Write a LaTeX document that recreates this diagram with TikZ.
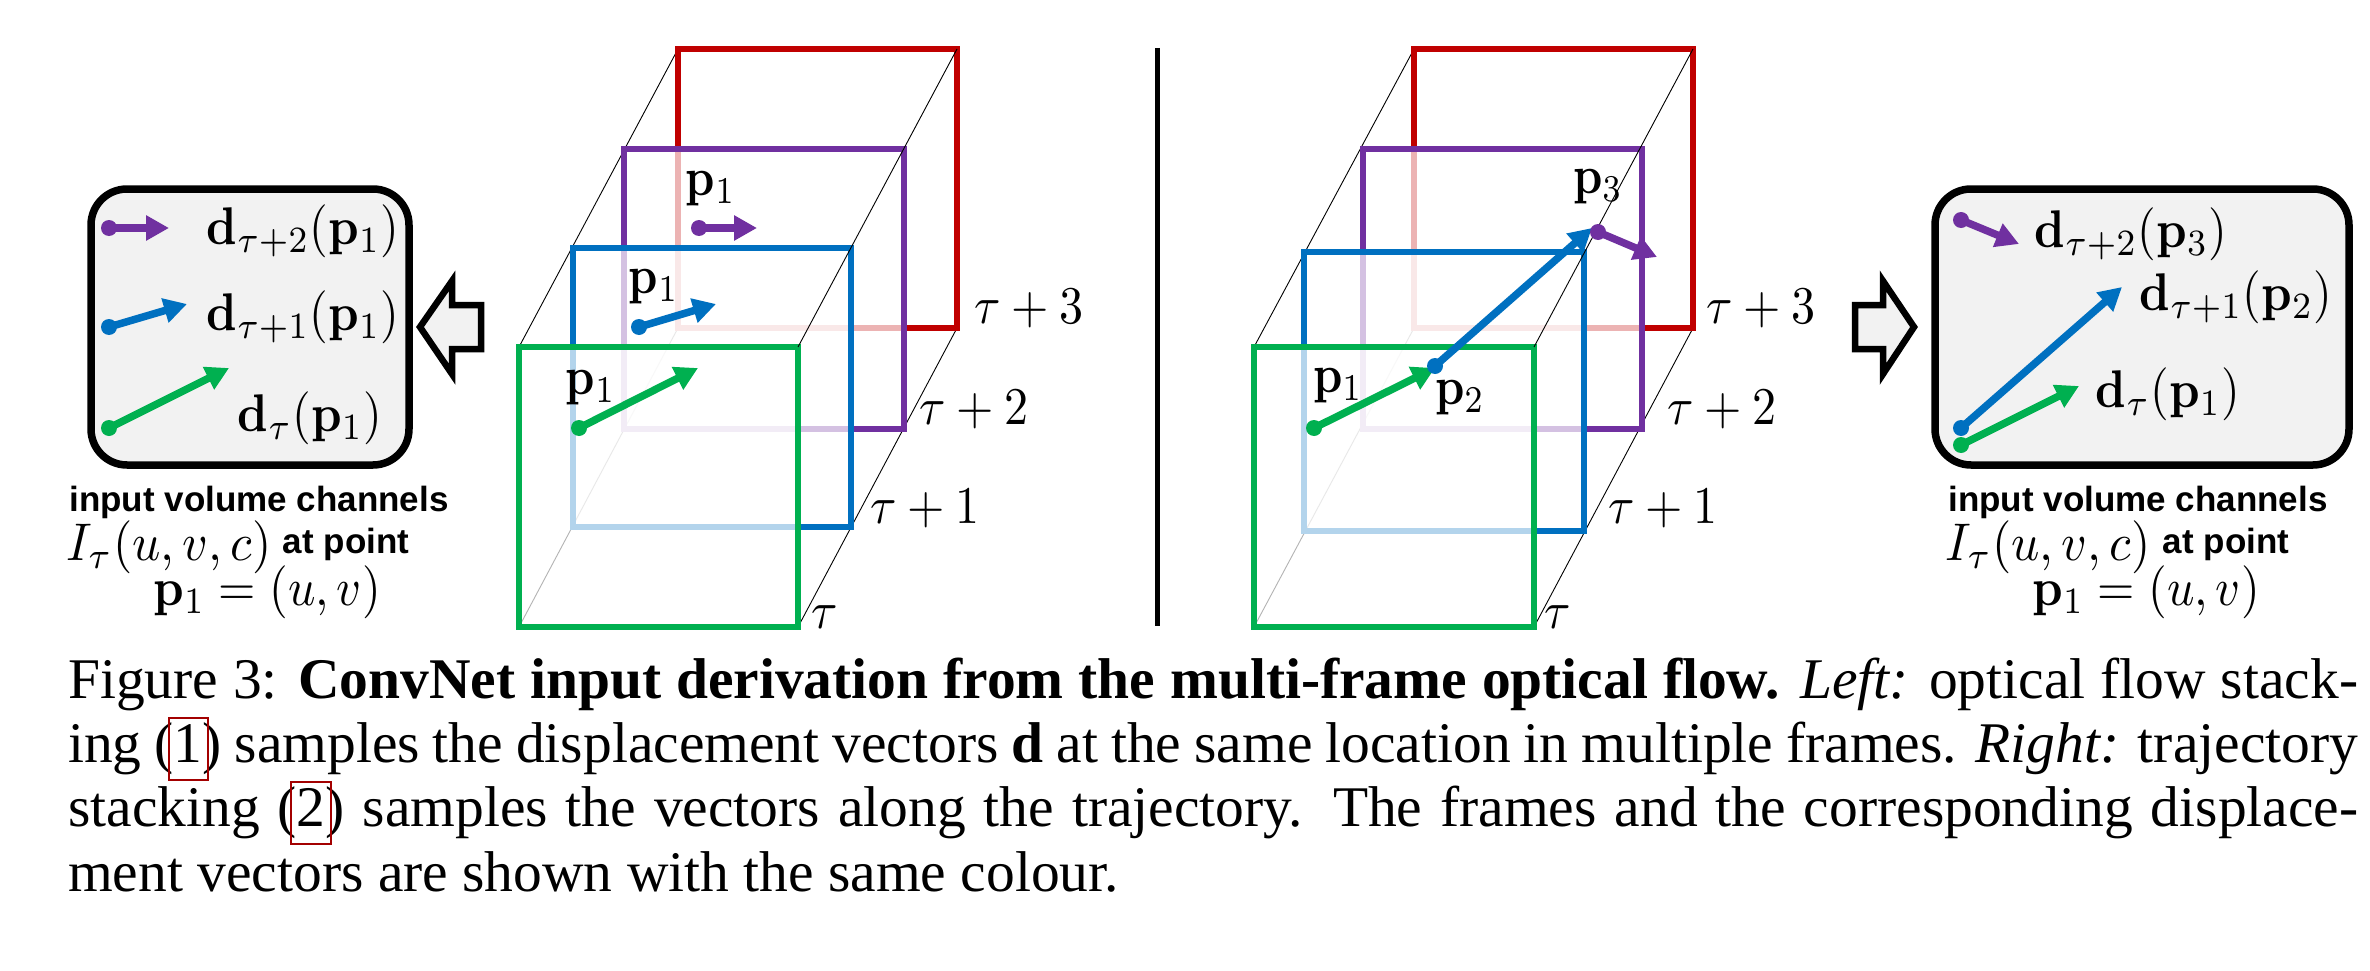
\documentclass[tikz,border=0pt]{standalone}
\usepackage[no-math]{fontspec}
\setmainfont{Liberation Serif}
\newfontfamily\labelsans{Liberation Sans}
\usetikzlibrary{arrows.meta}
\definecolor{cgreen}{RGB}{0,176,80}
\definecolor{cblue}{RGB}{0,112,192}
\definecolor{cpurple}{RGB}{112,48,160}
\definecolor{cred}{RGB}{192,0,0}
\definecolor{panelgray}{RGB}{242,242,242}
\tikzset{
  frame/.style={line width=5.5pt,fill=white,fill opacity=.7,draw opacity=1,line join=miter},
  guide/.style={line width=.9pt,black},
  flow/.style={line width=7.5pt,-{Triangle[length=23pt,width=24pt]},shorten >=0pt},
  panel/.style={draw=black,line width=7.5pt,fill=panelgray,rounded corners=36pt},
  hollow/.style={draw=black,line width=6.5pt,fill=panelgray,miter limit=10},
  sym/.style={inner sep=0pt,xscale=4.6,yscale=5.4},
  big/.style={inner sep=0pt,xscale=4.8,yscale=5.3},
  bigwide/.style={inner sep=0pt,xscale=4.95,yscale=5.3},
  tag/.style={inner sep=0pt,font=\labelsans\bfseries\fontsize{35}{38}\selectfont},
  capline/.style={inner sep=0pt,anchor=base west,font=\fontsize{57.5}{64}\selectfont},
  linkbox/.style={draw=cred!85!black,line width=1.2pt}
}
\newcommand{\capw}[1]{\makebox[2290pt][s]{#1}}
\begin{document}
\begin{tikzpicture}[x=1pt,y=-1pt]
\useasboundingbox (0,0) rectangle (2370,971);
% ---------- left stack
\coordinate (gA) at (519,347); \coordinate (gB) at (798,347); \coordinate (gC) at (798,627); \coordinate (gD) at (519,627);
\coordinate (rA) at (678,49); \coordinate (rB) at (957,49); \coordinate (rC) at (957,328); \coordinate (rD) at (678,328);
\draw[guide] (gA)--(rA) (gC)--(rC) (gD)--(rD);
\draw[frame,draw=cred] (rA) rectangle (rC);
\draw[frame,draw=cpurple] (624,149) rectangle (904,429);
\draw[frame,draw=cblue] (573,248) rectangle (851,527);
\draw[frame,draw=cgreen] (gA) rectangle (gC);
\draw[guide] (gB)--(rB);
% ---------- right stack
\coordinate (hA) at (1254,347); \coordinate (hB) at (1534,347); \coordinate (hC) at (1534,627); \coordinate (hD) at (1254,627);
\coordinate (sA) at (1414,49); \coordinate (sB) at (1693,49); \coordinate (sC) at (1693,328); \coordinate (sD) at (1414,328);
\draw[guide] (hA)--(sA) (hC)--(sC) (hD)--(sD);
\draw[frame,draw=cred] (sA) rectangle (sC);
\draw[frame,draw=cpurple] (1363,149) rectangle (1642,429);
\draw[frame,draw=cblue] (1304,252) rectangle (1584,531);
\draw[frame,draw=cgreen] (hA) rectangle (hC);
\draw[guide] (hB)--(sB);
% divider
\coordinate (divT) at (1157,48); \coordinate (divB) at (1157,626);
\draw[line width=5pt] (divT)--(divB);
% panels
\node[panel,minimum width=318pt,minimum height=276pt] (boxL) at (250,327) {};
\node[panel,minimum width=414pt,minimum height=276pt] (boxR) at (2142,327) {};
% hollow arrows
\draw[hollow] (420,327)--(452,281)--(452,305)--(481,305)--(481,349)--(452,349)--(452,374)--cycle;
\draw[hollow] (1914,327)--(1883,281)--(1883,305)--(1855,305)--(1855,349)--(1883,349)--(1883,374)--cycle;
% vectors
\foreach \n/\c/\ax/\ay/\bx/\by in {
  a/cpurple/109/228/169/228, b/cblue/109/327/187/304, c/cgreen/109/428/229/368,
  d/cpurple/699/228/757/228, e/cblue/639/327/716/304, f/cgreen/579/428/698/368,
  g/cpurple/1961/220/2019/244, h/cblue/1961/428/2122/287, i/cgreen/1961/445/2079/386,
  j/cgreen/1314/428/1435/368, k/cblue/1435/366/1592/228, l/cpurple/1598/232/1657/257}{
  \coordinate (\n0) at (\ax,\ay);
  \coordinate (\n1) at (\bx,\by);
  \draw[flow,draw=\c,fill=\c] (\n0)--(\n1);
  \fill[\c] (\n0) circle[radius=8];
}
% p labels
\node[sym] (pa) at (711,189) {$\mathbf{p}_1$};
\node[sym] (pb) at (654,287) {$\mathbf{p}_1$};
\node[sym] (pc) at (591,388) {$\mathbf{p}_1$};
\node[sym] (pd) at (1338,386) {$\mathbf{p}_1$};
\node[sym] (pe) at (1460,398) {$\mathbf{p}_2$};
\node[sym] (pf) at (1598,187) {$\mathbf{p}_3$};
% tau labels
\node[big] (t3l) at (1029,309) {$\tau+3$};
\node[big] (t2l) at (974,410) {$\tau+2$};
\node[big] (t1l) at (925,509) {$\tau+1$};
\node[big] (t0l) at (825,617) {$\tau$};
\node[big] (t3r) at (1761,309) {$\tau+3$};
\node[big] (t2r) at (1722,410) {$\tau+2$};
\node[big] (t1r) at (1663,509) {$\tau+1$};
\node[big] (t0r) at (1558,617) {$\tau$};
% panel labels
\node[big] (la) at (303,231) {$\mathbf{d}_{\tau+2}(\mathbf{p}_1)$};
\node[big] (lb) at (303,317) {$\mathbf{d}_{\tau+1}(\mathbf{p}_1)$};
\node[big] (lc) at (310,418) {$\mathbf{d}_{\tau}(\mathbf{p}_1)$};
\node[big] (ra) at (2131,234) {$\mathbf{d}_{\tau+2}(\mathbf{p}_3)$};
\node[big] (rb) at (2236,297) {$\mathbf{d}_{\tau+1}(\mathbf{p}_2)$};
\node[big] (rc) at (2168,394) {$\mathbf{d}_{\tau}(\mathbf{p}_1)$};
% captions under panels
\node[tag] (ca) at (259,502) {input volume channels};
\node[bigwide] (cb) at (169,547) {$I_\tau(u,v,c)$};
\node[tag] (cc) at (346,544) {at point};
\node[big] (cd) at (267,592) {$\mathbf{p}_1=(u,v)$};
\node[tag] (ce) at (2138,502) {input volume channels};
\node[bigwide] (cf) at (2048,547) {$I_\tau(u,v,c)$};
\node[tag] (cg) at (2226,544) {at point};
\node[big] (ch) at (2146,592) {$\mathbf{p}_1=(u,v)$};
% figure caption
\node[capline] (l1) at (68,698) {\capw{Figure 3: \textbf{ConvNet input derivation from the multi-frame optical flow.} \textit{Left:} optical flow stack-}};
\node[capline] (l2) at (68,762) {\capw{ing (1) samples the displacement vectors \textbf{d} at the same location in multiple frames. \textit{Right:} trajectory}};
\node[capline] (l3) at (68,826) {\capw{stacking (2) samples the vectors along the trajectory. The frames and the corresponding displace-}};
\node[capline] (l4) at (68,891) {ment vectors are shown with the same colour.};
\draw[linkbox] (169,718) rectangle (208,780);
\draw[linkbox] (291,782) rectangle (331,844);
\end{tikzpicture}
\end{document}
